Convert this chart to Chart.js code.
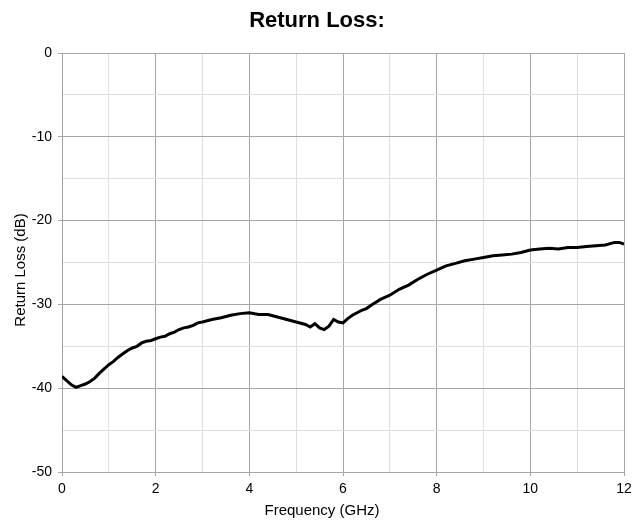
<!DOCTYPE html>
<html>
<head>
<meta charset="utf-8">
<script src="https://cdn.jsdelivr.net/npm/chart.js@4/dist/chart.umd.min.js"></script>
<style>
  html, body { margin: 0; padding: 0; background: #fff; }
  #wrap { width: 634px; height: 523px; }
</style>
</head>
<body>
<div id="wrap"><canvas id="chart"></canvas></div>
<script>
// frequency in GHz
const freq = [0.0, 0.1, 0.2, 0.3, 0.4, 0.5, 0.6, 0.7, 0.8, 0.9, 1.0, 1.1, 1.2, 1.3, 1.4, 1.5, 1.6, 1.7, 1.8, 1.9,
  2.0, 2.1, 2.2, 2.3, 2.4, 2.5, 2.6, 2.7, 2.8, 2.9, 3.0, 3.2, 3.4, 3.6, 3.8, 4.0, 4.2, 4.4, 4.6, 4.8,
  5.0, 5.2, 5.3, 5.4, 5.5, 5.6, 5.7, 5.8, 5.9, 6.0, 6.1, 6.2, 6.3, 6.4, 6.5, 6.6, 6.8,
  7.0, 7.2, 7.4, 7.6, 7.8, 8.0, 8.2, 8.4, 8.6, 8.8, 9.0, 9.2, 9.4, 9.6, 9.8,
  10.0, 10.2, 10.4, 10.6, 10.8, 11.0, 11.2, 11.4, 11.6, 11.8, 11.9, 12.0];
// return loss in dB
const returnLoss = [-38.6, -39.1, -39.6, -39.9, -39.7, -39.5, -39.2, -38.8, -38.2, -37.7, -37.2, -36.8, -36.3, -35.9, -35.5, -35.2, -35.0, -34.6, -34.4, -34.3,
  -34.1, -33.9, -33.8, -33.5, -33.3, -33.0, -32.8, -32.7, -32.5, -32.2, -32.1, -31.8, -31.6, -31.3, -31.1, -31.0, -31.2, -31.2, -31.5, -31.8,
  -32.1, -32.4, -32.7, -32.3, -32.8, -33.0, -32.6, -31.8, -32.1, -32.2, -31.7, -31.3, -31.0, -30.7, -30.5, -30.1, -29.4,
  -28.9, -28.2, -27.7, -27.0, -26.4, -25.9, -25.4, -25.1, -24.8, -24.6, -24.4, -24.2, -24.1, -24.0, -23.8,
  -23.5, -23.4, -23.3, -23.4, -23.2, -23.2, -23.1, -23.0, -22.9, -22.6, -22.6, -22.8];

const xTickLabels = [0, 2, 4, 6, 8, 10, 12];
const yTickLabels = [0, -10, -20, -30, -40, -50];

const major = '#a6a6a6';
const minor = '#dedede';
const family = '"Liberation Sans", Arial, sans-serif';
const tickFont = { family: family, size: 14 };

// axis titles sit a little off-centre in the original, so draw them here
const axisTitles = {
  id: 'axisTitles',
  afterDraw(chart) {
    const ctx = chart.ctx;
    ctx.save();
    ctx.fillStyle = '#000';
    ctx.font = '15px ' + family;
    ctx.textAlign = 'center';
    ctx.textBaseline = 'middle';
    ctx.fillText('Frequency (GHz)', 322, 511);
    ctx.translate(21, 270);
    ctx.rotate(-Math.PI / 2);
    ctx.fillText('Return Loss (dB)', 0, 0);
    ctx.restore();
  }
};

new Chart(document.getElementById('chart'), {
  type: 'line',
  data: {
    datasets: [{
      data: freq.map((f, i) => ({ x: f, y: returnLoss[i] })),
      borderColor: '#000',
      borderWidth: 3,
      pointRadius: 0,
      tension: 0
    }]
  },
  plugins: [axisTitles],
  options: {
    responsive: true,
    maintainAspectRatio: false,
    animation: false,
    layout: { padding: 0 },
    plugins: {
      legend: { display: false },
      tooltip: { enabled: false },
      title: {
        display: true,
        text: 'Return Loss:',
        color: '#000',
        font: { family: family, size: 22, weight: 'bold' },
        padding: { top: 8, bottom: 18.6 }
      }
    },
    scales: {
      x: {
        type: 'linear',
        min: 0, max: 12,
        afterFit: s => { s.height = 51; s.paddingRight = 10; },
        ticks: {
          stepSize: 1,
          color: '#000',
          font: tickFont,
          maxRotation: 0,
          padding: 5,
          callback: v => xTickLabels.includes(v) ? String(v) : ''
        },
        grid: {
          color: c => xTickLabels.includes(c.tick.value) ? major : minor,
          tickColor: c => xTickLabels.includes(c.tick.value) ? major : 'rgba(0,0,0,0)',
          tickLength: 4
        },
        border: { color: major }
      },
      y: {
        min: -50, max: 0,
        afterFit: s => { s.width = 62; },
        ticks: {
          stepSize: 5,
          color: '#000',
          font: tickFont,
          padding: 6,
          callback: v => yTickLabels.includes(v) ? String(v) : ''
        },
        grid: {
          color: c => yTickLabels.includes(c.tick.value) ? major : minor,
          tickColor: c => yTickLabels.includes(c.tick.value) ? major : 'rgba(0,0,0,0)',
          tickLength: 4
        },
        border: { color: major }
      }
    }
  }
});
</script>
</body>
</html>
